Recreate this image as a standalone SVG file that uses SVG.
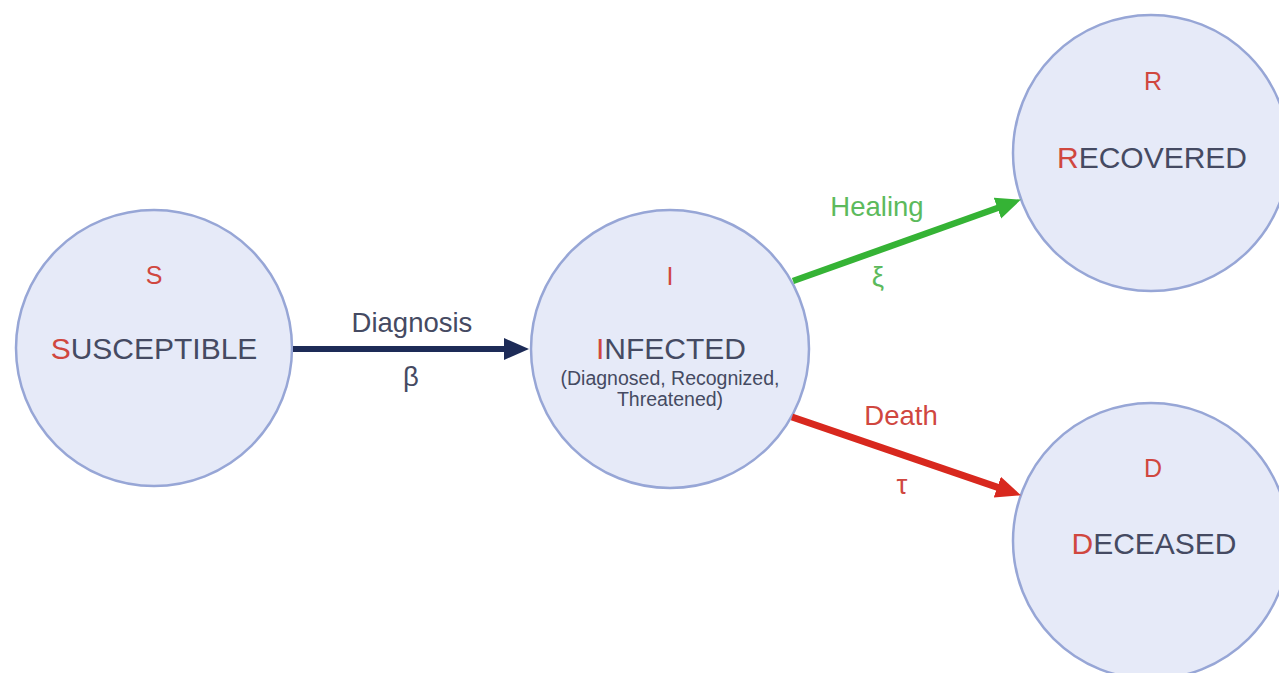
<svg xmlns="http://www.w3.org/2000/svg" width="1279" height="673" viewBox="0 0 1279 673">
<style>
.node circle{fill:#e6eaf8;stroke:#97a6d6;stroke-width:2.5}
text{font-family:"Liberation Sans",Arial,sans-serif;text-anchor:middle}
.big{font-size:30px;fill:#454a62}
.letter{font-size:25px;fill:#d0473f}
.red{fill:#d0473f}
.sub{font-size:19.5px;fill:#454a62}
.lbl{font-size:27.5px}
</style>
<defs>
<marker id="mNavy" markerUnits="userSpaceOnUse" markerWidth="26" markerHeight="24" viewBox="0 0 26 24" refX="9" refY="12" orient="auto"><path d="M0,1 L25,12 L0,23 z" fill="#1d2b57"/></marker>
<marker id="mGreen" markerUnits="userSpaceOnUse" markerWidth="26" markerHeight="24" viewBox="0 0 26 24" refX="9" refY="12" orient="auto"><path d="M0,1 L25,12 L0,23 z" fill="#35b335"/></marker>
<marker id="mRed" markerUnits="userSpaceOnUse" markerWidth="26" markerHeight="24" viewBox="0 0 26 24" refX="9" refY="12" orient="auto"><path d="M0,1 L25,12 L0,23 z" fill="#d8281e"/></marker>
</defs>
<rect width="1279" height="673" fill="#ffffff"/>
<g id="node-S" class="node">
<circle cx="154" cy="348" r="138"/>
<text class="letter" x="154" y="284">S</text>
<text class="big" x="154" y="359"><tspan class="red">S</tspan>USCEPTIBLE</text>
</g>
<g id="node-I" class="node">
<circle cx="670" cy="349" r="139"/>
<text class="letter" x="670" y="285">I</text>
<text class="big" x="671" y="359"><tspan class="red">I</tspan>NFECTED</text>
<text class="sub" x="670" y="385">(Diagnosed, Recognized,</text>
<text class="sub" x="670" y="406">Threatened)</text>
</g>
<g id="node-R" class="node">
<circle cx="1151" cy="153" r="138"/>
<text class="letter" x="1153" y="90">R</text>
<text class="big" x="1152" y="168"><tspan class="red">R</tspan>ECOVERED</text>
</g>
<g id="node-D" class="node">
<circle cx="1151" cy="541" r="138"/>
<text class="letter" x="1153" y="477">D</text>
<text class="big" x="1154" y="554"><tspan class="red">D</tspan>ECEASED</text>
</g>
<g id="connectors">
<line x1="293" y1="349" x2="513" y2="349" stroke="#1d2b57" stroke-width="6" marker-end="url(#mNavy)"/>
<text class="lbl" x="412" y="332" fill="#454a62">Diagnosis</text>
<text class="lbl" x="411" y="386" fill="#454a62">β</text>
<line x1="793" y1="281" x2="1005.9" y2="205" stroke="#35b335" stroke-width="6.5" marker-end="url(#mGreen)"/>
<text class="lbl" x="877" y="216" fill="#5cba5c">Healing</text>
<text class="lbl" x="878" y="286" fill="#5cba5c">ξ</text>
<line x1="792" y1="417" x2="1005.8" y2="490.1" stroke="#d8281e" stroke-width="7" marker-end="url(#mRed)"/>
<text class="lbl" x="901" y="425" fill="#d0473f">Death</text>
<text class="lbl" x="902" y="494" fill="#d0473f">τ</text>
</g>
</svg>
